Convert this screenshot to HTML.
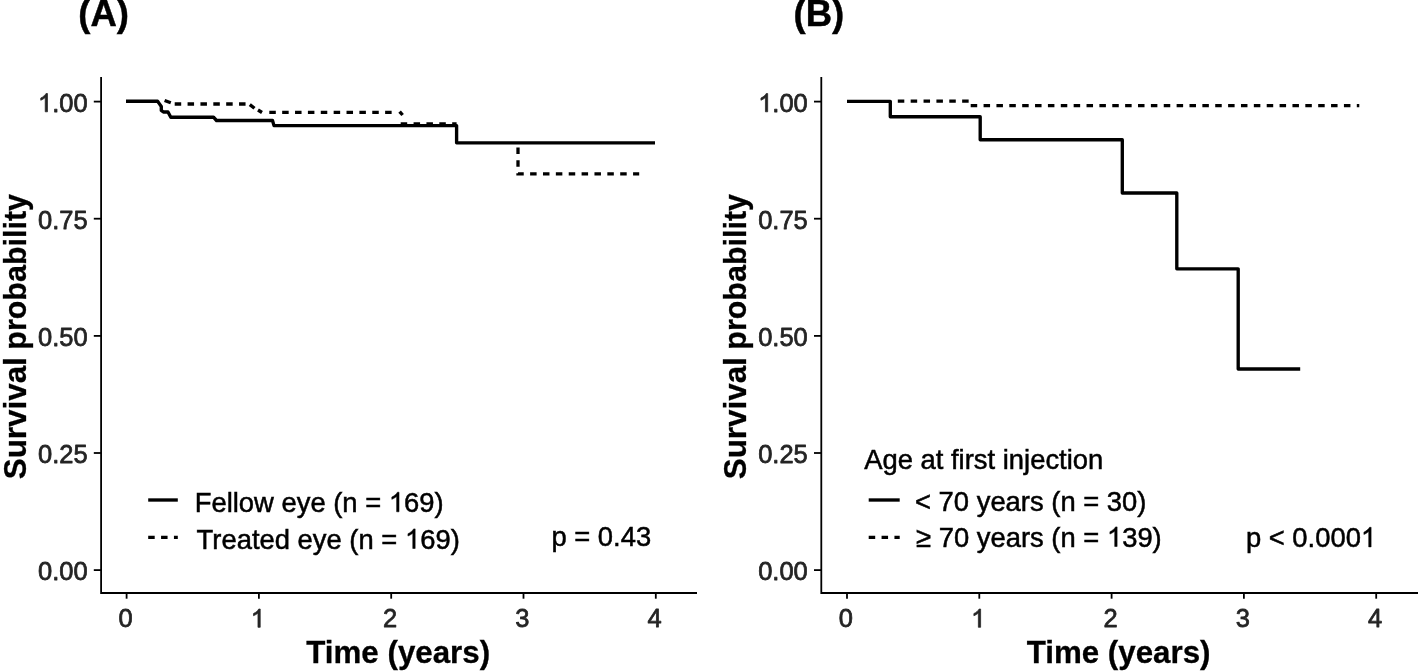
<!DOCTYPE html>
<html><head><meta charset="utf-8"><title>Survival</title>
<style>
html,body{margin:0;padding:0;background:#fff;}
body{width:1418px;height:671px;overflow:hidden;}
svg{display:block;filter:grayscale(1);}
text{font-family:"Liberation Sans",sans-serif;}
.tk{font-size:25.5px;fill:#242424;stroke:#242424;stroke-width:0.75px;stroke-linejoin:round;}
.lg{font-size:27.4px;fill:#000;stroke:#000;stroke-width:0.5px;}
.ti{font-size:31.5px;font-weight:bold;fill:#000;stroke:#000;stroke-width:0.3px;}
.pl{font-size:36.5px;font-weight:bold;fill:#000;stroke:#000;stroke-width:0.45px;}
.h{fill:none;stroke:none;}
.ax{stroke:#000;stroke-width:1.8;fill:none;}
.ln{stroke:#000;stroke-width:3.35;fill:none;stroke-linejoin:round;stroke-linecap:butt;}
.ds{stroke:#000;stroke-width:3.3;fill:none;stroke-dasharray:6.5 6.37;stroke-linejoin:miter;}
</style></head><body>
<svg width="1418" height="671" viewBox="0 0 1418 671">
<rect width="1418" height="671" fill="#fff"/>
<path class="ax" d="M101.1 77 V593 H697"/>
<path class="ax" d="M93.8 570.1 H101.1"/>
<g transform="translate(87.60,580.30) scale(1.0000,1.0405)"><text class="tk" text-anchor="end">0.00</text></g>
<path class="ax" d="M93.8 453.0 H101.1"/>
<g transform="translate(87.60,463.18) scale(1.0000,1.0405)"><text class="tk" text-anchor="end">0.25</text></g>
<path class="ax" d="M93.8 335.9 H101.1"/>
<g transform="translate(87.60,346.05) scale(1.0000,1.0405)"><text class="tk" text-anchor="end">0.50</text></g>
<path class="ax" d="M93.8 218.7 H101.1"/>
<g transform="translate(87.60,228.93) scale(1.0000,1.0405)"><text class="tk" text-anchor="end">0.75</text></g>
<path class="ax" d="M93.8 101.6 H101.1"/>
<g transform="translate(87.60,111.80) scale(1.0000,1.0405)"><text class="tk" text-anchor="end"><tspan class="h">1</tspan>.00</text><path transform="translate(-49.63,0) scale(0.012451,-0.011967)" d="M763 0H583V1147Q518 1085 412.5 1023T223 930V1104Q373 1174.5 485 1275T644 1466H763Z" fill="rgb(36, 36, 36)" stroke="rgb(36, 36, 36)" stroke-width="0.75" vector-effect="non-scaling-stroke" stroke-linejoin="round"/></g>
<path class="ax" d="M126.6 593 V598.7"/>
<g transform="translate(125.50,627.30) scale(1.0000,1.0405)"><text class="tk" text-anchor="middle">0</text></g>
<path class="ax" d="M258.9 593 V598.7"/>
<g transform="translate(257.80,627.30) scale(1.0000,1.0405)"><text class="tk" text-anchor="middle"><tspan class="h">1</tspan></text><path transform="translate(-7.09,0) scale(0.012451,-0.011967)" d="M763 0H583V1147Q518 1085 412.5 1023T223 930V1104Q373 1174.5 485 1275T644 1466H763Z" fill="rgb(36, 36, 36)" stroke="rgb(36, 36, 36)" stroke-width="0.75" vector-effect="non-scaling-stroke" stroke-linejoin="round"/></g>
<path class="ax" d="M391.2 593 V598.7"/>
<g transform="translate(390.10,627.30) scale(1.0000,1.0405)"><text class="tk" text-anchor="middle">2</text></g>
<path class="ax" d="M523.5 593 V598.7"/>
<g transform="translate(522.40,627.30) scale(1.0000,1.0405)"><text class="tk" text-anchor="middle">3</text></g>
<path class="ax" d="M655.8 593 V598.7"/>
<g transform="translate(654.70,627.30) scale(1.0000,1.0405)"><text class="tk" text-anchor="middle">4</text></g>
<g transform="translate(78.30,26.10) scale(1.0000,1.0000)"><text class="pl" text-anchor="start">(A)</text></g>
<g transform="translate(25.90,479.20) rotate(-90) scale(1.0150,1.0000)"><text class="ti" style="font-size:30.9px" text-anchor="start">Survival</text></g>
<g transform="translate(25.90,349.70) rotate(-90) scale(0.9860,1.0000)"><text class="ti" style="font-size:30.9px" text-anchor="start">probability</text></g>
<g transform="translate(398.20,662.80) scale(1.0000,1.0000)"><text class="ti" style="font-size:31.3px" text-anchor="middle">Time (years)</text></g>
<path class="ln" d="M126 101.2 H157.6 L159.3 103.6 L161.3 106.5 V110.4 L163.4 112 H168 L170.8 117.2 H213.5 L216.5 120.5 H272.5 L274 125.6 H456.6 V142.8 H655"/>
<path class="ln" d="M164.6 100.5 L170.8 102.8"/>
<path class="ds" d="M174.7 104 H247"/>
<path class="ln" d="M249.8 104.6 L254.5 108.3 M258 110 L262 112.5"/>
<path class="ds" d="M269.3 112.4 H397"/>
<path class="ln" d="M399.6 111.6 L402.6 115"/>
<path class="ds" d="M400.7 123.9 H456.6"/>
<path class="ds" d="M518 147.4 V173.9 H639.2"/>
<path class="ln" d="M148.2 500 H177.8"/>
<path class="ds" d="M148.2 537.3 H177.8"/>
<g transform="translate(194.70,511.80) scale(1.0000,1.0405)"><text class="lg" text-anchor="start">Fellow eye (n = <tspan class="h">1</tspan>69)</text><path transform="translate(194.12,0) scale(0.013379,-0.012859)" d="M763 0H583V1147Q518 1085 412.5 1023T223 930V1104Q373 1174.5 485 1275T644 1466H763Z" fill="rgb(0, 0, 0)" stroke="rgb(0, 0, 0)" stroke-width="0.5" vector-effect="non-scaling-stroke" stroke-linejoin="round"/></g>
<g transform="translate(196.60,548.50) scale(1.0000,1.0405)"><text class="lg" text-anchor="start">Treated eye (n = <tspan class="h">1</tspan>69)</text><path transform="translate(208.36,0) scale(0.013379,-0.012859)" d="M763 0H583V1147Q518 1085 412.5 1023T223 930V1104Q373 1174.5 485 1275T644 1466H763Z" fill="rgb(0, 0, 0)" stroke="rgb(0, 0, 0)" stroke-width="0.5" vector-effect="non-scaling-stroke" stroke-linejoin="round"/></g>
<g transform="translate(551.40,546.20) scale(1.0000,1.0405)"><text class="lg" text-anchor="start">p = 0.43</text></g>
<path class="ax" d="M821.3 77 V593 H1418"/>
<path class="ax" d="M814.0 570.1 H821.3"/>
<g transform="translate(807.80,580.30) scale(1.0000,1.0405)"><text class="tk" text-anchor="end">0.00</text></g>
<path class="ax" d="M814.0 453.0 H821.3"/>
<g transform="translate(807.80,463.18) scale(1.0000,1.0405)"><text class="tk" text-anchor="end">0.25</text></g>
<path class="ax" d="M814.0 335.9 H821.3"/>
<g transform="translate(807.80,346.05) scale(1.0000,1.0405)"><text class="tk" text-anchor="end">0.50</text></g>
<path class="ax" d="M814.0 218.7 H821.3"/>
<g transform="translate(807.80,228.93) scale(1.0000,1.0405)"><text class="tk" text-anchor="end">0.75</text></g>
<path class="ax" d="M814.0 101.6 H821.3"/>
<g transform="translate(807.80,111.80) scale(1.0000,1.0405)"><text class="tk" text-anchor="end"><tspan class="h">1</tspan>.00</text><path transform="translate(-49.63,0) scale(0.012451,-0.011967)" d="M763 0H583V1147Q518 1085 412.5 1023T223 930V1104Q373 1174.5 485 1275T644 1466H763Z" fill="rgb(36, 36, 36)" stroke="rgb(36, 36, 36)" stroke-width="0.75" vector-effect="non-scaling-stroke" stroke-linejoin="round"/></g>
<path class="ax" d="M847.0 593 V598.7"/>
<g transform="translate(845.90,627.30) scale(1.0000,1.0405)"><text class="tk" text-anchor="middle">0</text></g>
<path class="ax" d="M979.3 593 V598.7"/>
<g transform="translate(978.20,627.30) scale(1.0000,1.0405)"><text class="tk" text-anchor="middle"><tspan class="h">1</tspan></text><path transform="translate(-7.09,0) scale(0.012451,-0.011967)" d="M763 0H583V1147Q518 1085 412.5 1023T223 930V1104Q373 1174.5 485 1275T644 1466H763Z" fill="rgb(36, 36, 36)" stroke="rgb(36, 36, 36)" stroke-width="0.75" vector-effect="non-scaling-stroke" stroke-linejoin="round"/></g>
<path class="ax" d="M1111.6 593 V598.7"/>
<g transform="translate(1110.50,627.30) scale(1.0000,1.0405)"><text class="tk" text-anchor="middle">2</text></g>
<path class="ax" d="M1243.9 593 V598.7"/>
<g transform="translate(1242.80,627.30) scale(1.0000,1.0405)"><text class="tk" text-anchor="middle">3</text></g>
<path class="ax" d="M1376.2 593 V598.7"/>
<g transform="translate(1375.10,627.30) scale(1.0000,1.0405)"><text class="tk" text-anchor="middle">4</text></g>
<g transform="translate(793.50,26.10) scale(1.0000,1.0000)"><text class="pl" text-anchor="start">(B)</text></g>
<g transform="translate(746.30,479.20) rotate(-90) scale(1.0150,1.0000)"><text class="ti" style="font-size:30.9px" text-anchor="start">Survival</text></g>
<g transform="translate(746.30,349.70) rotate(-90) scale(0.9860,1.0000)"><text class="ti" style="font-size:30.9px" text-anchor="start">probability</text></g>
<g transform="translate(1118.60,662.80) scale(1.0000,1.0000)"><text class="ti" style="font-size:31.3px" text-anchor="middle">Time (years)</text></g>
<path class="ln" d="M847 101.3 H890.3 V116.7 H980.2 V139.7 H1122.3 V193 H1176.8 V268.8 H1238.2 V369 H1300.2"/>
<path class="ds" d="M897.8 101.2 H969"/>
<path class="ds" d="M970.7 105.7 H1359.3"/>
<path class="ln" d="M868.7 500 H899.7"/>
<path class="ds" d="M868.7 537.3 H899.7"/>
<g transform="translate(864.20,468.60) scale(1.0000,1.0405)"><text class="lg" text-anchor="start">Age at first injection</text></g>
<g transform="translate(915.00,510.60) scale(1.0000,1.0405)"><text class="lg" text-anchor="start">&lt; 70 years (n = 30)</text></g>
<g transform="translate(916.00,546.50) scale(1.0000,1.0405)"><text class="lg" text-anchor="start">≥ 70 years (n = <tspan class="h">1</tspan>39)</text><path transform="translate(190.91,0) scale(0.013379,-0.012859)" d="M763 0H583V1147Q518 1085 412.5 1023T223 930V1104Q373 1174.5 485 1275T644 1466H763Z" fill="rgb(0, 0, 0)" stroke="rgb(0, 0, 0)" stroke-width="0.5" vector-effect="non-scaling-stroke" stroke-linejoin="round"/></g>
<g transform="translate(1245.90,546.90) scale(1.0000,1.0405)"><text class="lg" text-anchor="start">p &lt; 0.000<tspan class="h">1</tspan></text><path transform="translate(115.01,0) scale(0.013379,-0.012859)" d="M763 0H583V1147Q518 1085 412.5 1023T223 930V1104Q373 1174.5 485 1275T644 1466H763Z" fill="rgb(0, 0, 0)" stroke="rgb(0, 0, 0)" stroke-width="0.5" vector-effect="non-scaling-stroke" stroke-linejoin="round"/></g>
</svg>
</body></html>
